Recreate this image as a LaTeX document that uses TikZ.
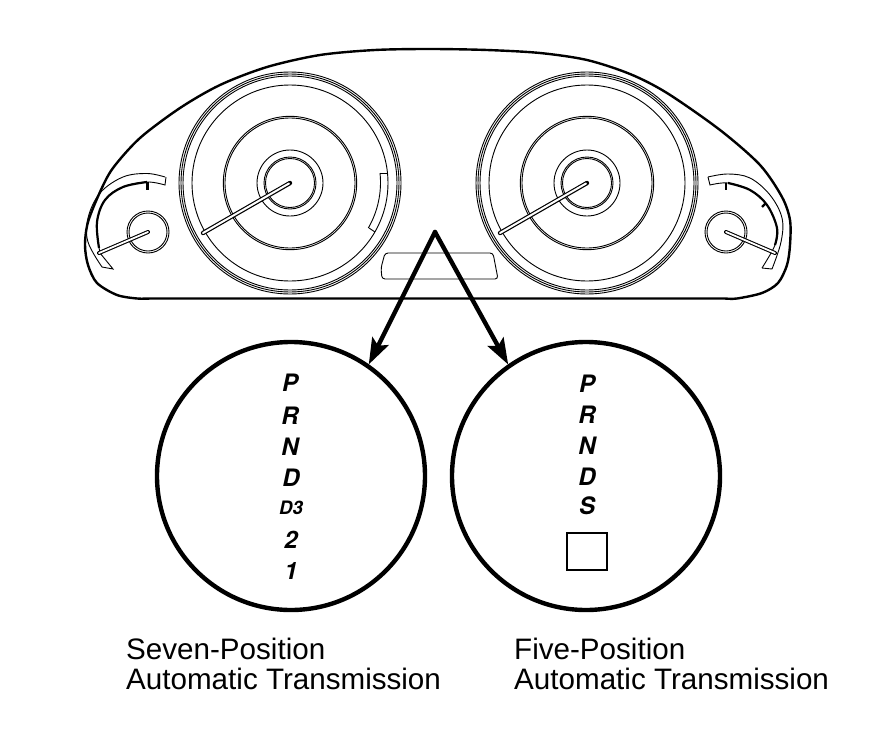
\documentclass[tikz,border=0pt]{standalone}
\usepackage{fontspec}
\setmainfont{Liberation Sans}
\newfontfamily\gearfont{TeX Gyre Heros}
\usetikzlibrary{arrows.meta}
\tikzset{
  thin ink/.style={line width=.9pt,black},
  body/.style={line width=2.4pt,black,line join=round},
  needleout/.style={line width=4.4pt,black,line cap=round},
  needlein/.style={line width=2pt,white,line cap=round},
  dial/.style={circle,draw=black,line width=4.4pt,minimum size=268pt,inner sep=0pt,outer sep=0pt},
  pointer/.style={line width=4.4pt,black,line cap=round,-{Stealth[length=26pt,width=18pt,inset=5pt]},shorten >=2pt},
  gear/.style={font=\gearfont\bfseries\itshape\fontsize{24}{24}\selectfont,inner sep=0pt},
  caption/.style={font=\fontsize{29.6}{30}\selectfont,align=left,anchor=base west,inner sep=0pt},
}
\newcommand{\biggauge}[2]{%
  \begin{scope}[shift={(#1,#2)}]
    \foreach \r in {111,109,107,98,66.7,65,33,26,24.5} \draw[thin ink] (0,0) circle[radius=\r];
    \draw[needleout] (0,0) -- (-87,50);
    \draw[needlein] (-1,.5) -- (-87,50);
  \end{scope}}
\begin{document}
\begin{tikzpicture}[x=1pt,y=-1pt]
\useasboundingbox[fill=white] (0,0) rectangle (880,736);
% housing
\draw[body] plot[smooth,tension=.5] coordinates {(150,298.5) (137,298.5) (117,295) (97,283) (88,265) (85,245) (88,222) (100,192) (113,168) (140,138) (180,108) (220,85) (267,67) (320,55) (375,50) (430,49) (487,50) (540,53) (587,60) (630,74) (667,93) (720,130) (760,165) (782,197) (790,220) (790,245) (787,265) (778,283) (762,293) (737,298.5) (725,298.5)} -- cycle;
% large gauges
\biggauge{290}{183}
\biggauge{587}{183}
% band in left large gauge
\draw[thin ink] (380,173) -- (388,173);
\draw[thin ink] (380,173) arc[start angle=-6,end angle=30,radius=91];
\draw[thin ink] (369,228) -- (375,232);
% left small gauge
\draw[thin ink] (148,232) circle[radius=21];
\draw[thin ink] (148,232) circle[radius=19];
\draw[thin ink] plot[smooth,tension=.6] coordinates {(165,177) (147,173.5) (123,177) (100,193) (88,218) (88,242) (102,267)} -- (113,269) -- (100,253);
\draw[thin ink] plot[smooth,tension=.6] coordinates {(100,253) (98,240) (97,222) (105,200) (123,187) (147,182) (165,185)} -- (166,177);
\draw[line width=2.2pt] plot[smooth,tension=.6] coordinates {(99,248) (97,222) (105,200) (123,187) (147,182)};
\draw[line width=2.6pt] (147.5,182) -- (147.5,190);
\draw[needleout,line width=4pt] (148,232) -- (99,253);
\draw[needlein,line width=1.8pt] (148,232) -- (99,253);
% right small gauge
\draw[thin ink] (726,232) circle[radius=21];
\draw[thin ink] (726,232) circle[radius=19];
\draw[thin ink] plot[smooth,tension=.6] coordinates {(708,177) (728,174) (750,178) (770,195) (782,218) (781,242) (772,269)} -- (762,268);
\draw[thin ink] plot[smooth,tension=.6] coordinates {(762,268) (775,245) (777,228) (767,205) (750,190) (728,183) (710,185)} -- (708,177);
\draw[line width=2.2pt] plot[smooth,tension=.6] coordinates {(775,245) (777,228) (767,205) (750,190) (728,183)};
\draw[line width=2.6pt] (726,183) -- (726,190);
\draw[line width=2.4pt] (762,207) -- (766,203);
\draw[needleout,line width=4pt] (726,232) -- (775,253);
\draw[needlein,line width=1.8pt] (726,232) -- (775,253);
% display window
\draw[thin ink,rounded corners=3pt] (385,253) -- (493,253) -- (498,279) -- (382,279) -- (381,268) -- cycle;
% selector dials
\node[dial] (dialL) at (291,476) {};
\node[dial] (dialR) at (586,476) {};
\coordinate (apex) at (435,232);
\draw[pointer] (apex) -- (dialL.55.6);
\draw[pointer] (apex) -- (dialR.125);
% seven-position
\node[gear] (l1) at (290,383) {P};
\node[gear] (l2) at (290,416) {R};
\node[gear] (l3) at (290,447) {N};
\node[gear] (l4) at (291,478) {D};
\node[gear,font=\gearfont\bfseries\itshape\fontsize{18.5}{18.5}\selectfont] (l5) at (291,508) {D3};
\node[gear] (l6) at (291,540) {2};
\node[gear] (l7) at (291,571) {1};
% five-position
\node[gear] (r1) at (587,384) {P};
\node[gear] (r2) at (587,415) {R};
\node[gear] (r3) at (587,446) {N};
\node[gear] (r4) at (587,477) {D};
\node[gear] (r5) at (587,506) {S};
\node[draw=black,line width=1.4pt,minimum width=40pt,minimum height=37pt,inner sep=0pt] (box) at (587,551.5) {};
% captions
\node[caption] (capL1) at (126,659) {Seven-Position};
\node[caption] (capL2) at (126,689) {Automatic Transmission};
\node[caption] (capR1) at (514,659) {Five-Position};
\node[caption] (capR2) at (514,689) {Automatic Transmission};
\end{tikzpicture}
\end{document}
